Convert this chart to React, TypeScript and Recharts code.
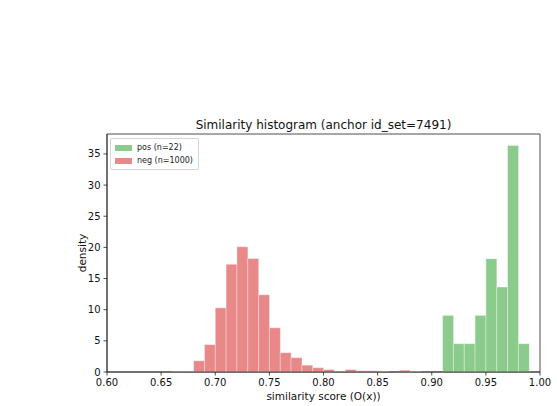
import { BarChart, Bar, XAxis, YAxis, Legend, ReferenceArea } from 'recharts'

// histogram bins (left edges, width 0.01)
const BIN_START = [
  0.66, 0.67, 0.68, 0.69, 0.7, 0.71, 0.72, 0.73, 0.74, 0.75, 0.76,
  0.77, 0.78, 0.79, 0.8, 0.81, 0.82, 0.83, 0.84, 0.85, 0.86, 0.87,
  0.88, 0.89, 0.9, 0.91, 0.92, 0.93, 0.94, 0.95, 0.96, 0.97, 0.98,
]
const BIN_WIDTH = 0.01

// density values
const NEG = [
  0.1, 0.1, 1.8, 4.4, 10.3, 17.3, 20.1, 18.2, 12.4, 7.1, 3.1,
  2.3, 1.1, 0.7, 0.4, 0.1, 0.4, 0.2, 0.2, 0.1, 0, 0.3,
  0.1, 0, 0, 0, 0, 0, 0, 0, 0, 0, 0,
]
const POS = [
  0, 0, 0, 0, 0, 0, 0, 0, 0, 0, 0,
  0, 0, 0, 0, 0, 0, 0, 0, 0, 0, 0,
  0, 0, 0, 9.09, 4.55, 4.55, 9.09, 18.18, 13.64, 36.36, 4.55,
]

const X_TICKS = [0.6, 0.65, 0.7, 0.75, 0.8, 0.85, 0.9, 0.95, 1.0]
const Y_TICKS = [0, 5, 10, 15, 20, 25, 30, 35]
const X_DOMAIN = [0.6, 1.0]
const Y_DOMAIN = [0, 38.2]

const POS_LABEL = 'pos (n=22)'
const NEG_LABEL = 'neg (n=1000)'
const TITLE = 'Similarity histogram (anchor id_set=7491)'

const POS_COLOR = '#8bcb8b'
const NEG_COLOR = '#e88889'
const FONT = '"DejaVu Sans", sans-serif'
const AXIS = '#222'

const W = 557
const H = 406
const M = { top: 134, right: 17, left: 67, bottom: 0 }
const Y_AXIS_W = 40
const X_AXIS_H = 34
const PLOT_CX = M.left + Y_AXIS_W + (W - M.left - M.right - Y_AXIS_W) / 2

const rows = BIN_START.map((b, i) => ({
  mid: b + BIN_WIDTH / 2,
  pos: POS[i],
  neg: NEG[i],
}))

const tickStyle = { fontSize: 10, fill: '#111', fontFamily: FONT }

function LegendBox() {
  const items = [
    { label: POS_LABEL, color: POS_COLOR },
    { label: NEG_LABEL, color: NEG_COLOR },
  ]
  return (
    <div
      style={{
        border: '1px solid #d5d5d5',
        borderRadius: 2,
        background: 'rgba(255,255,255,0.8)',
        padding: '2px 5px 2px 4px',
        fontFamily: FONT,
        fontSize: 8,
        color: '#222',
      }}
    >
      {items.map((it) => (
        <div key={it.label} style={{ display: 'flex', alignItems: 'center', height: 13 }}>
          <span style={{ width: 17, height: 6, background: it.color, marginRight: 5 }} />
          <span>{it.label}</span>
        </div>
      ))}
    </div>
  )
}

export default function App() {
  return (
    <div style={{ position: 'absolute', left: 0, top: 0, width: W, height: H, background: '#fff' }}>
      <div
        style={{
          position: 'absolute',
          top: 118,
          left: PLOT_CX - 200,
          width: 400,
          textAlign: 'center',
          fontFamily: FONT,
          fontSize: 12,
          lineHeight: '14px',
          color: '#111',
          whiteSpace: 'nowrap',
        }}
      >
        {TITLE}
      </div>
      <BarChart width={W} height={H} data={rows} margin={M} barCategoryGap={0} barGap={0}>
        <Bar
          dataKey="neg"
          stackId="h"
          fill={NEG_COLOR}
          stroke="#fff"
          strokeWidth={0.4}
          isAnimationActive={false}
        />
        <Bar
          dataKey="pos"
          stackId="h"
          fill={POS_COLOR}
          stroke="#fff"
          strokeWidth={0.4}
          isAnimationActive={false}
        />
        <ReferenceArea
          x1={X_DOMAIN[0]}
          x2={X_DOMAIN[1]}
          y1={Y_DOMAIN[0]}
          y2={Y_DOMAIN[1]}
          fill="none"
          fillOpacity={0}
          stroke={AXIS}
          strokeWidth={0.8}
          strokeOpacity={1}
        />
        <XAxis
          dataKey="mid"
          type="number"
          domain={X_DOMAIN}
          allowDataOverflow
          ticks={X_TICKS}
          interval={0}
          height={X_AXIS_H}
          tickSize={3.5}
          tickMargin={3}
          tickFormatter={(v) => v.toFixed(2)}
          tick={tickStyle}
          stroke={AXIS}
          strokeWidth={0.8}
          label={{ value: 'similarity score (O(x))', position: 'insideBottom', offset: 6, fontSize: 10.5, fill: '#111', fontFamily: FONT }}
        />
        <YAxis
          type="number"
          domain={Y_DOMAIN}
          allowDataOverflow
          ticks={Y_TICKS}
          interval={0}
          width={Y_AXIS_W}
          tickSize={3.5}
          tickMargin={3}
          tick={tickStyle}
          stroke={AXIS}
          strokeWidth={0.8}
          label={{ value: 'density', angle: -90, position: 'insideLeft', offset: 15, fontSize: 10.5, fill: '#111', fontFamily: FONT, style: { textAnchor: 'middle' } }}
        />
        <Legend
          layout="vertical"
          align="center"
          verticalAlign="middle"
          wrapperStyle={{ left: 110, top: 138, width: 'auto' }}
          content={() => <LegendBox />}
        />
      </BarChart>
    </div>
  )
}
